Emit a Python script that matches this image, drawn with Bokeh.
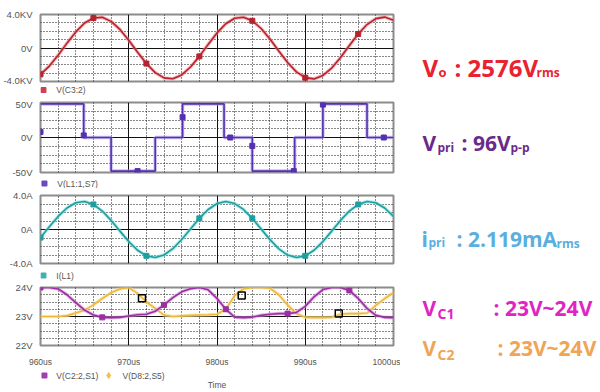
from bokeh.plotting import figure
from bokeh.layouts import column, row
from bokeh.models import Range1d, FixedTicker, ColumnDataSource
from bokeh.core.properties import value
from bokeh.embed import file_html
from bokeh.resources import INLINE

# ---------------- data ----------------
t_us = list(range(960, 1001))  # time, microseconds

vo_kv = [-3.14, -2.16, -0.86, 0.58, 1.92, 2.98, 3.59, 3.66, 3.18, 2.22,
         0.93, -0.50, -1.86, -2.94, -3.57, -3.67, -3.22, -2.27, -1.00, 0.43,
         1.80, 2.89, 3.55, 3.68, 3.25, 2.33, 1.07, -0.36, -1.73, -2.85,
         -3.54, -3.69, -3.28, -2.39, -1.14, 0.29, 1.67, 2.80, 3.51, 3.69, 3.32]

vpri_t = [960.0, 964.9, 968.0, 973.0, 976.1, 980.8, 984.0, 988.8, 992.0, 997.0, 1000.0]
vpri_v = [48, 0, -48, 0, 48, 0, -48, 0, 48, 0, 0]
vpri_mark_t = [960.0, 964.9, 971.0, 976.1, 981.5, 984.0, 988.7, 992.0, 998.9]
vpri_mark_v = [8, 3, -48, 29, 0, -12, -48, 47, 0]

i_l1 = [-0.95, 0.32, 1.54, 2.53, 3.14, 3.29, 2.95, 2.17, 1.07, -0.19,
        -1.42, -2.44, -3.10, -3.30, -3.00, -2.26, -1.18, 0.06, 1.31, 2.35,
        3.05, 3.30, 3.05, 2.36, 1.31, 0.06, -1.19, -2.27, -3.01, -3.30,
        -3.10, -2.44, -1.42, -0.19, 1.07, 2.17, 2.95, 3.29, 3.14, 2.53, 1.54]

vc1 = [24.00, 24.00, 23.95, 23.75, 23.48, 23.22, 23.05, 22.97, 22.96, 22.97,
       23.02, 23.06, 23.08, 23.18, 23.40, 23.65, 23.85, 23.96, 24.00, 23.92,
       23.62, 23.25, 22.98, 22.96, 22.98, 23.04, 23.08, 23.10, 23.10, 23.14,
       23.35, 23.68, 23.93, 24.00, 24.00, 23.90, 23.62, 23.28, 23.04, 22.97, 22.96]

vc2 = [23.00, 23.00, 23.00, 23.03, 23.12, 23.22, 23.40, 23.62, 23.82, 23.95,
       24.00, 23.80, 23.50, 23.28, 23.05, 23.00, 23.02, 23.04, 23.05, 23.06,
       23.08, 23.25, 23.72, 23.95, 24.00, 24.00, 23.98, 23.75, 23.40, 23.10,
       22.97, 22.96, 22.96, 22.97, 23.08, 23.10, 23.10, 23.12, 23.38, 23.62, 23.82]

cursor_t = [971.5, 982.8, 993.8]
cursor_v = [23.63, 23.72, 23.10]

x_ticks = [960, 970, 980, 990, 1000]
x_tick_labels = ["960us", "970us", "980us", "990us", "1000us"]

legend_names = ["V(C3:2)", "V(L1:1,S7)", "I(L1)", "V(C2:2,S1)", "V(D8:2,S5)"]

note_text = ["V", "o", ": 2576V", "rms",
             "V", "pri", ": 96V", "p-p",
             "i", "pri", ": 2.119mA", "rms",
             "V", "C1", ": 23V~24V",
             "V", "C2", ": 23V~24V"]

# ---------------- layout helpers ----------------
BL, BR = 36, 7
FW = 357
PW = BL + FW + BR          # 400, panel column width
TW = 600 - PW              # 200, notes column width
FX0, FX1 = BL, BL + FW     # frame left/right in page pixels
GREY = "#555555"

RED, RED_G = "#b8232f", "#e98a8a"
PUR, PUR_G = "#5530b0", "#a995e6"
TEAL, TEAL_G = "#1f9e9e", "#7fdede"
MAG, MAG_G = "#9a2fa2", "#d48ad9"
ORA, ORA_G = "#f0b83a", "#f8e096"


def make_panel(height, btop, bbot, ylo, yhi, yticks, ylabels, yminor, show_x=False):
    p = figure(width=PW, height=height, x_range=Range1d(960, 1000),
               y_range=Range1d(ylo, yhi), output_backend="svg",
               toolbar_location=None, title=None,
               min_border_left=BL, min_border_right=BR,
               min_border_top=btop, min_border_bottom=bbot)
    p.background_fill_color = "white"
    p.border_fill_color = "white"
    p.outline_line_color = "#8c8c8c"
    p.outline_line_width = 2

    p.yaxis.ticker = FixedTicker(ticks=yticks)
    p.yaxis.major_label_overrides = dict(zip(yticks, ylabels))
    p.yaxis.major_tick_line_color = None
    p.yaxis.minor_tick_line_color = None
    p.yaxis.axis_line_color = None
    p.yaxis.major_label_standoff = 2
    p.yaxis.major_label_text_font = "Liberation Sans"
    p.yaxis.major_label_text_font_size = "9.5px"
    p.yaxis.major_label_text_color = GREY

    p.xgrid.ticker = FixedTicker(ticks=[970, 980, 990],
                                 minor_ticks=[962, 964, 966, 968, 972, 974, 976, 978,
                                              982, 984, 986, 988, 992, 994, 996, 998])
    p.ygrid.ticker = FixedTicker(ticks=[(ylo + yhi) / 2.0], minor_ticks=yminor)
    for g in (p.xgrid, p.ygrid):
        g.grid_line_color = "#111111"
        g.grid_line_width = 1
        g.minor_grid_line_color = "#111111"
        g.minor_grid_line_dash = "1 2"
        g.minor_grid_line_width = 1

    if show_x:
        p.xaxis.ticker = FixedTicker(ticks=x_ticks)
        p.xaxis.major_label_overrides = dict(zip(x_ticks, x_tick_labels))
        p.xaxis.major_tick_line_color = None
        p.xaxis.minor_tick_line_color = None
        p.xaxis.axis_line_color = None
        p.xaxis.major_label_standoff = 5
        p.xaxis.major_label_text_font = "Liberation Sans"
        p.xaxis.major_label_text_font_size = "8.5px"
        p.xaxis.major_label_text_color = GREY
    else:
        p.xaxis.visible = False
    return p


def trace(p, x, y, core, glow, step=False):
    if step:
        p.step(x, y, mode="after", line_color=glow, line_width=3.5, line_alpha=0.6)
        p.step(x, y, mode="after", line_color=core, line_width=1.6)
    else:
        p.line(x, y, line_color=glow, line_width=3.5, line_alpha=0.6)
        p.line(x, y, line_color=core, line_width=1.6)


def strip(top, height):
    """A blank band (page-pixel coordinates) under a panel, holding its legend."""
    s = figure(width=PW, height=height, x_range=Range1d(FX0, FX1),
               y_range=Range1d(top + height, top), output_backend="svg",
               toolbar_location=None, title=None,
               min_border_left=BL, min_border_right=BR,
               min_border_top=0, min_border_bottom=0)
    s.axis.visible = False
    s.grid.visible = False
    s.outline_line_color = None
    s.background_fill_color = "white"
    s.border_fill_color = "white"
    return s


def legend_entry(s, mx, tx, y, name, color, marker="square", msize=5):
    s.scatter([mx], [y], marker=marker, size=msize, color=color)
    s.text([tx], [y], text=[name], text_font=value("Liberation Sans"),
           text_font_size="8.5px", text_color=GREY, text_baseline="middle",
           text_align="left")

# ---------------- panel 1 : V(C3:2) ----------------
p1 = make_panel(85, 14, 4, -4, 4, [-4, 0, 4], ["-4.0KV", "0V", "4.0KV"],
                [-3, -2, -1, 1, 2, 3])
trace(p1, t_us, vo_kv, RED, RED_G)
p1.scatter(t_us[::6], vo_kv[::6], marker="square", size=5, color=RED)
s1 = strip(85, 13)
legend_entry(s1, 39, 52, 89.5, legend_names[0], "#d04050")

# ---------------- panel 2 : V(L1:1,S7) ----------------
p2 = make_panel(79, 4, 5, -50, 50, [-50, 0, 50], ["-50V", "0V", "50V"],
                [-37.5, -25, -12.5, 12.5, 25, 37.5])
trace(p2, vpri_t, vpri_v, PUR, PUR_G, step=True)
p2.scatter(vpri_mark_t, vpri_mark_v, marker="square", size=5, color=PUR)
s2 = strip(177, 11)
legend_entry(s2, 40, 53, 182, legend_names[1], "#6a4ab8")

# ---------------- panel 3 : I(L1) ----------------
p3 = make_panel(80, 7, 5, -4, 4, [-4, 0, 4], ["-4.0A", "0A", "4.0A"],
                [-3, -2, -1, 1, 2, 3])
trace(p3, t_us, i_l1, TEAL, TEAL_G)
p3.scatter(t_us[::6], i_l1[::6], marker="square", size=5, color=TEAL)
s3 = strip(268, 13)
legend_entry(s3, 39, 52, 275, legend_names[2], "#40b0b0")

# ---------------- panel 4 : V(C2:2,S1), V(D8:2,S5) ----------------
p4 = make_panel(88, 6, 15, 22, 24, [22, 23, 24], ["22V", "23V", "24V"],
                [22.25, 22.5, 22.75, 23.25, 23.5, 23.75], show_x=True)
trace(p4, t_us, vc2, ORA, ORA_G)
trace(p4, t_us, vc1, MAG, MAG_G)
p4.scatter(t_us[::7], vc1[::7], marker="square", size=5, color=MAG)
p4.scatter(cursor_t, cursor_v, marker="square", size=7, fill_color=None,
           line_color="black", line_width=1.5)
s4 = strip(369, 23)
legend_entry(s4, 40, 52, 375, legend_names[3], "#a040b0")
legend_entry(s4, 105, 119, 375, legend_names[4], "#f4c050", marker="diamond", msize=6)
s4.text([(FX0 + FX1) / 2.0], [384.5], text=["Time"], text_font=value("Liberation Sans"),
        text_font_size="8.5px", text_color=GREY, text_baseline="middle",
        text_align="center")

# ---------------- right-hand notes ----------------
TC1, TC2, TC3, TC4, TC5 = "#e8232f", "#6a2a8c", "#5aaee0", "#e024c4", "#f0a456"
note_x = [422, 438, 454, 536,
          422, 437, 461, 510,
          421, 428, 456, 556,
          422, 437, 493,
          422, 437, 497]
note_y = [67, 71, 67, 72,
          142, 147, 142, 147,
          238, 242, 238, 243,
          307, 313, 307,
          347, 354, 347]
note_size = ["24px", "13px", "24px", "12px",
             "21px", "12px", "21px", "12px",
             "21px", "12px", "21px", "12px",
             "21px", "14px", "21px",
             "21px", "14px", "21px"]
note_color = [TC1] * 4 + [TC2] * 4 + [TC3] * 4 + [TC4] * 3 + [TC5] * 3

pt = figure(width=TW, height=392, x_range=Range1d(PW, 600),
            y_range=Range1d(392, 0), output_backend="svg",
            toolbar_location=None, title=None, min_border=0)
pt.axis.visible = False
pt.grid.visible = False
pt.outline_line_color = None
pt.background_fill_color = "white"
pt.border_fill_color = "white"
src = ColumnDataSource(dict(x=note_x, y=note_y, text=note_text,
                            size=note_size, color=note_color))
pt.text(x="x", y="y", text="text", source=src, text_font=value("Open Sans"),
        text_font_style="bold", text_font_size="size", text_color="color",
        text_baseline="alphabetic", text_align="left")

left = column(p1, s1, p2, s2, p3, s3, p4, s4)
layout = row(left, pt)
open("out.html", "w").write(file_html(layout, INLINE))
